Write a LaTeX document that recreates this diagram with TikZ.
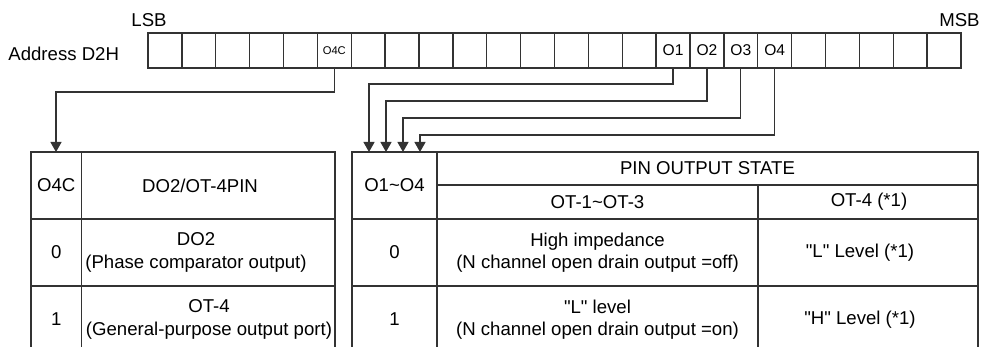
\documentclass[tikz,border=0pt]{standalone}
\usepackage{fontspec}
\setmainfont{Liberation Sans}[Ligatures=TeXOff]
\usepackage{tikz}
\usetikzlibrary{arrows.meta}

\tikzset{
  bitcell/.style={draw=black!80, line width=0.65pt, minimum width=16.94pt,
    minimum height=17.5pt, inner sep=0pt},
  wire/.style={draw=black!80, line width=0.65pt},
  arr/.style={wire, -{Triangle[width=5.5pt,length=5pt]}},
  txt/.style={align=center, inner sep=0pt, font=\fontsize{9.3}{11.2}\selectfont},
  bittxt/.style={inner sep=0pt, font=\fontsize{7.8}{9}\selectfont}
}

\begin{document}
\begin{tikzpicture}[x=0.5pt,y=-0.5pt]
        \useasboundingbox (0,0) rectangle (981,347);

        % register
        \foreach \i in {0,...,23}
            \node[bitcell] (c\i) at ({148+(\i+0.5)*33.875},50.5) {};

        \node[txt, anchor=base west] (addr) at (8,61) {Address D2H};
        \node[txt, anchor=base] (lsb) at (149,27) {LSB};
        \node[txt, anchor=base east] (msb) at (980,27) {MSB};

        \node[bittxt, font=\fontsize{5.6}{6}\selectfont] (b4c) at (c5) {O4C};
        \node[bittxt] (b1) at (c15) {O1};
        \node[bittxt] (b2) at (c16) {O2};
        \node[bittxt] (b3) at (c17) {O3};
        \node[bittxt] (b4) at (c18) {O4};

        % arrow ends
        \coordinate (t4c) at (56,152);
        \coordinate (t1) at (369,152);
        \coordinate (t2) at (386,152);
        \coordinate (t3) at (403,152);
        \coordinate (t4) at (420,152);

        \draw[arr] (c5.south) -- (c5.south |- 0,92) -| (t4c);
        \draw[arr] (c15.south) -- (c15.south |- 0,84) -| (t1);
        \draw[arr] (c16.south) -- (c16.south |- 0,101) -| (t2);
        \draw[arr] (c17.south) -- (c17.south |- 0,118) -| (t3);
        \draw[arr] (c18.south) -- (c18.south |- 0,135) -| (t4);

        % left table
        \draw[wire] (31,347) -- (31,152) -- (335,152) -- (335,347);
        \draw[wire] (81.7,152) -- (81.7,347);
        \draw[wire] (31,219) -- (335,219);
        \draw[wire] (31,286) -- (335,286);

        \node[txt] (o4c) at (56.3,185.5) {O4C};
        \node[txt] (pin) at (200,185.5) {DO2/OT-4PIN};
        \node[txt] (l0) at (56.3,252.5) {0};
        \node[txt] (do2) at (196,252.5) {DO2\\(Phase comparator output)};
        \node[txt] (l1) at (56.3,319.5) {1};
        \node[txt] (ot4) at (209,319.5) {OT-4\\(General-purpose output port)};

        % right table
        \draw[wire] (352,347) -- (352,152) -- (978,152) -- (978,347);
        \draw[wire] (437,152) -- (437,347);
        \draw[wire] (758,185) -- (758,347);
        \draw[wire] (437,185) -- (978,185);
        \draw[wire] (352,219) -- (978,219);
        \draw[wire] (352,286) -- (978,286);

        \node[txt] (osel) at (394.5,185.5) {O1\textasciitilde O4};
        \node[txt] (state) at (707.5,168.5) {PIN OUTPUT STATE};
        \node[txt] (ot13) at (597.5,202) {OT-1\textasciitilde OT-3};
        \node[txt] (ot4h) at (869,202) {OT-4 (*1)};
        \node[txt] (r0) at (394.5,252.5) {0};
        \node[txt] (hiz) at (597.5,252.5) {High impedance\\(N channel open drain output =off)};
        \node[txt] (lo) at (860,252.5) {"L" Level (*1)};
        \node[txt] (r1) at (394.5,319.5) {1};
        \node[txt] (llev) at (597.5,319.5) {"L" level\\(N channel open drain output =on)};
        \node[txt] (hi) at (860,319.5) {"H" Level (*1)};
    \end{tikzpicture}
\end{document}
